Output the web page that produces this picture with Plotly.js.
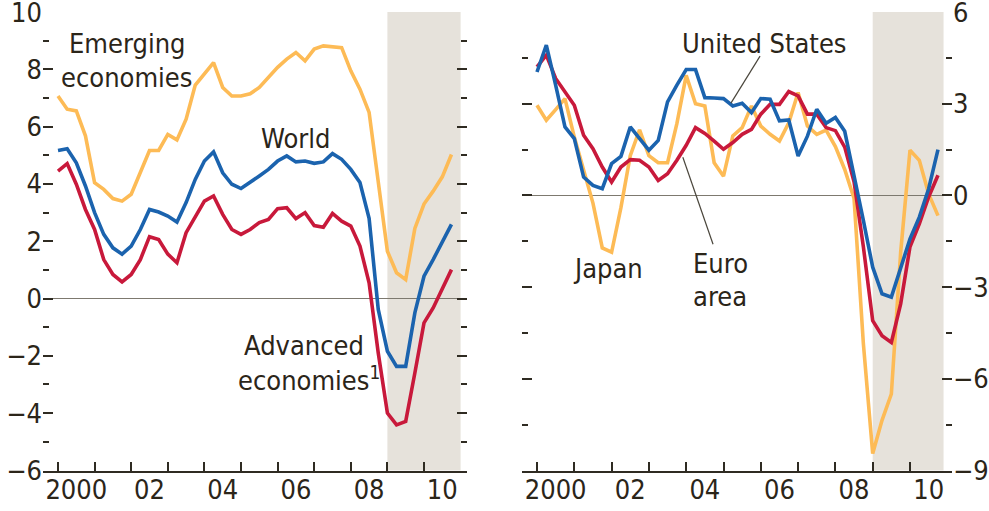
<!DOCTYPE html>
<html>
<head>
<meta charset="utf-8">
<script src="https://cdn.plot.ly/plotly-3.0.1.min.js"></script>
<style>html,body{margin:0;padding:0;background:#fff;}#chart{width:989px;height:511px;}</style>
</head>
<body>
<div id="chart"></div>
<script>
// Quarterly periods 2000Q1 .. 2010Q4
const startYear = 2000;
const nQuarters = 44;

// Left panel: real GDP growth, percent
const emerging = [7.07,6.61,6.55,5.68, 4.04,3.81,3.49,3.40, 3.64,4.39,5.17,5.17, 5.73,5.54,6.26,7.45,
  7.83,8.24,7.37,7.07, 7.07,7.15,7.37,7.72, 8.07,8.36,8.59,8.30, 8.71,8.82,8.80,8.76,
  7.95,7.31,6.50,4.10, 1.65,0.90,0.66,2.45, 3.30,3.75,4.25,5.03];
const world = [5.17,5.23,4.74,3.93, 3.00,2.24,1.77,1.55, 1.83,2.41,3.11,3.02, 2.88,2.67,3.35,4.16,
  4.80,5.12,4.39,3.99, 3.84,4.05,4.28,4.51, 4.80,4.98,4.77,4.80, 4.72,4.77,5.06,4.86,
  4.51,4.05,2.80,-0.38, -1.84,-2.37,-2.37,-0.50, 0.78,1.36,1.95,2.59];
const advanced = [4.45,4.71,3.99,3.11, 2.41,1.36,0.84,0.58, 0.84,1.36,2.16,2.06, 1.55,1.25,2.30,2.88,
  3.40,3.58,2.94,2.41, 2.24,2.41,2.65,2.76, 3.14,3.17,2.79,3.00, 2.55,2.49,2.97,2.70,
  2.53,1.83,0.55,-1.90, -4.00,-4.41,-4.29,-2.60, -0.85,-0.33,0.31,1.01];

// Right panel
const unitedStates = [4.04,4.92,3.61,2.24, 1.86,0.60,0.33,0.22, 1.04,1.28,2.24,1.86, 1.48,1.80,3.06,3.61,
  4.12,4.12,3.20,3.19, 3.17,2.93,3.02,2.71, 3.17,3.15,2.44,2.47, 1.29,1.94,2.82,2.36,
  2.55,2.10,0.70,-0.82, -2.35,-3.22,-3.33,-2.35, -1.42,-0.71,0.22,1.50];
const euroArea = [4.21,4.59,3.83,3.39, 2.95,1.97,1.53,0.93, 0.44,0.93,1.17,1.15, 0.93,0.49,0.71,1.15,
  1.64,2.22,2.03,1.78, 1.51,1.73,2.00,2.16, 2.66,2.98,2.98,3.40, 3.26,2.66,2.66,2.22,
  2.12,1.58,0.45,-1.68, -4.10,-4.59,-4.81,-3.55, -1.68,-0.93,-0.05,0.66];
const japan = [2.95,2.46,2.81,3.17, 1.91,0.80,-0.25,-1.72, -1.86,-0.40,1.30,2.15, 1.30,1.07,1.07,2.35,
  3.93,3.00,2.93,1.07, 0.63,1.95,2.22,2.93, 2.27,2.00,1.78,2.38, 3.37,2.27,2.00,2.14,
  1.60,0.85,-0.10,-4.85, -8.45,-7.36,-6.50,-1.86, 1.48,1.15,0.05,-0.66];

// Axis labels
const yearTicks = [2000,2001,2002,2003,2004,2005,2006,2007,2008,2009,2010];
const labelPos = [2000.5,2002.5,2004.5,2006.5,2008.5,2010.5];
const labelText = ['2000','02','04','06','08','10'];
const leftMajor = [-6,-4,-2,0,2,4,6,8,10];
const leftMinor = [-5,-3,-1,1,3,5,7,9];
const rightMajor = [-9,-6,-3,0,3,6];
const rightMinor = [-7.5,-4.5,-1.5,1.5,4.5];

const t = [];
for (let i = 0; i < nQuarters; i++) t.push(startYear + i / 4);

const YEL = '#FDBB56', BLU = '#1B63AE', RED = '#C8193B';
const INK = '#2b2519', AX = '#2f2b22', ZL = '#7d796f', BAND = '#E6E2DB';
const FONT = '"DejaVu Sans Condensed", "Liberation Sans Narrow", sans-serif';
const FS = 27;
const LW = 3.6;

function ln(y, c, xa, ya) {
  return {x: t, y: y, type: 'scatter', mode: 'lines', line: {color: c, width: LW},
          xaxis: xa, yaxis: ya, hoverinfo: 'skip'};
}

const data = [
  ln(emerging, YEL, 'x', 'y'), ln(advanced, RED, 'x', 'y'), ln(world, BLU, 'x', 'y'),
  ln(japan, YEL, 'x2', 'y3'), ln(euroArea, RED, 'x2', 'y3'), ln(unitedStates, BLU, 'x2', 'y3'),
  {x: [], y: [], xaxis: 'x3', yaxis: 'y2', type: 'scatter'},
  {x: [], y: [], xaxis: 'x4', yaxis: 'y4', type: 'scatter'}
];

const dL = [43/989, 467/989], dR = [522/989, 952/989];
const dY = [1 - 470.5/511, 1 - 12/511];
const rL = [1999.59, 2011.175], rR = [1999.598, 2011.126];

function xTicks(domain, range, anchor) {
  return {domain: domain, range: range, anchor: anchor, showline: true, linecolor: AX, linewidth: 2,
    tickmode: 'array', tickvals: yearTicks, ticks: 'inside', ticklen: 9, tickwidth: 2, tickcolor: AX,
    showticklabels: false, showgrid: false, zeroline: false, fixedrange: true};
}
function xLabels(domain, range, anchor, over) {
  return {domain: domain, range: range, anchor: anchor, overlaying: over, side: 'bottom',
    tickmode: 'array', tickvals: labelPos, ticktext: labelText, ticks: '', showline: false,
    showgrid: false, zeroline: false, fixedrange: true, ticklabeloverflow: 'allow',
    tickfont: {size: FS, color: INK, family: FONT}};
}
function yAx(range, major, minor, extra) {
  return Object.assign({domain: dY, range: [range[0] - 0.004, range[1] + 0.004], tickmode: 'array', tickvals: major,
    ticks: 'inside', ticklen: 10, tickwidth: 2, tickcolor: AX,
    minor: {tickmode: 'array', tickvals: minor, ticks: 'inside', ticklen: 6, tickwidth: 2, tickcolor: AX},
    showline: false, showgrid: false, zeroline: false, fixedrange: true, ticklabeloverflow: 'allow',
    tickfont: {size: FS, color: INK, family: FONT}}, extra);
}

const layout = {
  width: 989, height: 511, margin: {l: 0, r: 0, t: 0, b: 0},
  paper_bgcolor: '#fff', plot_bgcolor: 'rgba(0,0,0,0)', showlegend: false,
  font: {family: FONT, size: FS, color: INK},
  xaxis: xTicks(dL, rL, 'y'),
  xaxis3: xLabels(dL, rL, 'y', 'x'),
  xaxis2: xTicks(dR, rR, 'y3'),
  xaxis4: xLabels(dR, rR, 'y3', 'x2'),
  yaxis: yAx([-6, 10], leftMajor, leftMinor, {anchor: 'x', side: 'left', zeroline: true, zerolinecolor: ZL, zerolinewidth: 1.6}),
  yaxis2: yAx([-6, 10], leftMajor, leftMinor, {anchor: 'x', side: 'right', overlaying: 'y', showticklabels: false}),
  yaxis3: yAx([-9, 6], rightMajor, rightMinor, {anchor: 'x2', side: 'left', showticklabels: false, zeroline: true, zerolinecolor: ZL, zerolinewidth: 1.6}),
  yaxis4: yAx([-9, 6], rightMajor, rightMinor, {anchor: 'x2', side: 'right', overlaying: 'y3'}),
  shapes: [
    {type: 'rect', xref: 'x', yref: 'y domain', x0: 2009, x1: 2011, y0: 0, y1: 1, fillcolor: BAND, line: {width: 0}, layer: 'below'},
    {type: 'rect', xref: 'x2', yref: 'y3 domain', x0: 2009, x1: 2010.9, y0: 0, y1: 1, fillcolor: BAND, line: {width: 0}, layer: 'below'},
    {type: 'line', xref: 'x2', yref: 'y3', x0: 2005.98, y0: 4.56, x1: 2005.20, y1: 3.02, line: {color: '#4a463c', width: 1.2}},
    {type: 'line', xref: 'x2', yref: 'y3', x0: 2003.91, y0: 1.25, x1: 2004.72, y1: -1.60, line: {color: '#4a463c', width: 1.2}}
  ],
  annotations: [
    {text: 'Emerging', x: 2001.885, y: 8.92, xref: 'x', yref: 'y', showarrow: false},
    {text: 'economies', x: 2001.885, y: 7.73, xref: 'x', yref: 'y', showarrow: false},
    {text: 'World', x: 2006.50, y: 5.59, xref: 'x', yref: 'y', showarrow: false},
    {text: 'Advanced', x: 2006.72, y: -1.64, xref: 'x', yref: 'y', showarrow: false},
    {text: 'economies<sup>1</sup>', x: 2006.86, y: -2.80, xref: 'x', yref: 'y', showarrow: false},
    {text: 'United States', x: 2006.09, y: 4.98, xref: 'x2', yref: 'y3', showarrow: false},
    {text: 'Japan', x: 2001.90, y: -2.39, xref: 'x2', yref: 'y3', showarrow: false},
    {text: 'Euro', x: 2004.91, y: -2.23, xref: 'x2', yref: 'y3', showarrow: false},
    {text: 'area', x: 2004.91, y: -3.30, xref: 'x2', yref: 'y3', showarrow: false}
  ]
};

Plotly.newPlot('chart', data, layout, {staticPlot: true, displayModeBar: false});
</script>
</body>
</html>
